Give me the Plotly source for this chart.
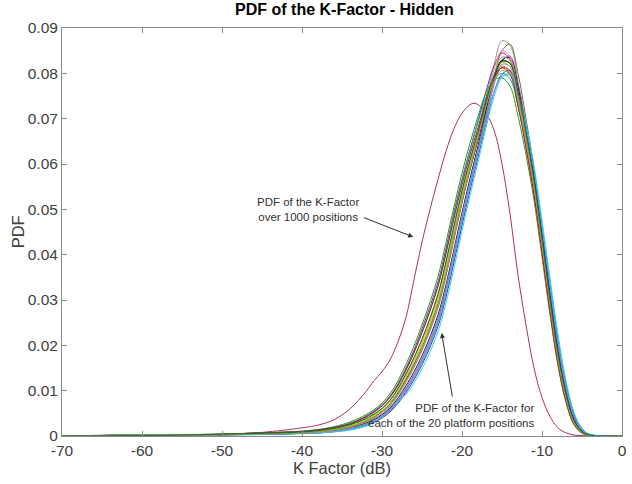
import plotly.graph_objects as go

# x grid (dB) on which the 20 platform-position PDFs were read
group_x = [-70, -60, -50, -45, -40, -37, -34, -31, -29, -27, -25, -23, -22, -21, -20, -19,
           -18, -17, -16, -15, -14, -13, -12, -11, -10, -9, -8, -7, -6, -5, -4, 0]

pos01 = [0, .0001, .0003, .0004, .0006, .0010, .0019, .0038, .0066, .0118, .0188, .0282, .0352, .0433, .0515, .0592, .0665, .0745, .0818, .0872, .0862, .0782, .0672, .0555, .0420, .0285, .0165, .0080, .0028, .0007, .0001, 0]
pos02 = [0, .0002, .0002, .0004, .0006, .0008, .0015, .0032, .0056, .0101, .0163, .0250, .0316, .0393, .0475, .0553, .0628, .0708, .0790, .0850, .0864, .0800, .0700, .0590, .0458, .0322, .0200, .0105, .0042, .0013, .0003, 0]
pos03 = [0, .0003, .0004, .0007, .0010, .0016, .0028, .0055, .0088, .0150, .0236, .0340, .0414, .0494, .0566, .0632, .0695, .0760, .0816, .0845, .0830, .0758, .0660, .0552, .0422, .0290, .0170, .0084, .0030, .0008, .0001, 0]
pos04 = [0, .0002, .0003, .0004, .0006, .0009, .0017, .0033, .0058, .0104, .0168, .0257, .0323, .0400, .0480, .0555, .0626, .0700, .0775, .0828, .0838, .0778, .0685, .0580, .0450, .0316, .0192, .0099, .0038, .0011, .0002, 0]
pos05 = [0, .0001, .0003, .0005, .0007, .0011, .0021, .0042, .0071, .0125, .0196, .0292, .0362, .0442, .0521, .0590, .0654, .0722, .0782, .0813, .0806, .0742, .0652, .0549, .0421, .0291, .0171, .0085, .0030, .0008, .0001, 0]
pos06 = [0, .0002, .0003, .0005, .0006, .0008, .0015, .0030, .0053, .0096, .0157, .0242, .0307, .0384, .0465, .0542, .0615, .0690, .0758, .0798, .0806, .0762, .0682, .0585, .0462, .0335, .0212, .0115, .0048, .0015, .0003, 0]
pos07 = [0, .0002, .0004, .0007, .0011, .0017, .0031, .0058, .0093, .0158, .0245, .0352, .0427, .0506, .0580, .0646, .0705, .0757, .0785, .0790, .0772, .0706, .0620, .0520, .0395, .0268, .0155, .0074, .0025, .0006, .0001, 0]
pos08 = [0, .0001, .0002, .0003, .0005, .0008, .0013, .0029, .0062, .0092, .0148, .0230, .0294, .0370, .0452, .0530, .0604, .0680, .0748, .0790, .0796, .0760, .0688, .0596, .0475, .0348, .0224, .0122, .0052, .0017, .0004, 0]
pos09 = [0, .0002, .0004, .0006, .0010, .0015, .0027, .0052, .0085, .0145, .0228, .0332, .0406, .0487, .0562, .0630, .0692, .0748, .0786, .0800, .0788, .0728, .0644, .0546, .0420, .0291, .0172, .0086, .0031, .0009, .0001, 0]
pos10 = [0, .0001, .0003, .0005, .0008, .0013, .0024, .0046, .0077, .0133, .0207, .0305, .0376, .0455, .0532, .0600, .0663, .0730, .0790, .0824, .0814, .0746, .0653, .0551, .0422, .0293, .0174, .0088, .0032, .0009, .0001, 0]
pos11 = [0, .0002, .0003, .0005, .0007, .0011, .0021, .0041, .0070, .0123, .0193, .0287, .0357, .0437, .0516, .0587, .0653, .0723, .0790, .0828, .0822, .0753, .0658, .0553, .0424, .0292, .0171, .0085, .0030, .0008, .0001, 0]
pos12 = [0, .0002, .0004, .0006, .0009, .0014, .0025, .0048, .0079, .0137, .0214, .0314, .0386, .0465, .0542, .0610, .0672, .0736, .0790, .0816, .0802, .0730, .0636, .0532, .0404, .0276, .0160, .0078, .0027, .0007, .0001, 0]
pos13 = [0, .0001, .0003, .0004, .0006, .0010, .0018, .0036, .0062, .0111, .0177, .0267, .0334, .0412, .0493, .0568, .0640, .0716, .0788, .0830, .0834, .0770, .0677, .0572, .0444, .0310, .0186, .0095, .0036, .0010, .0002, 0]
pos14 = [0, .0002, .0003, .0005, .0008, .0012, .0022, .0044, .0074, .0129, .0201, .0298, .0369, .0449, .0528, .0598, .0662, .0728, .0783, .0806, .0797, .0735, .0648, .0548, .0421, .0292, .0172, .0086, .0031, .0009, .0001, 0]
pos15 = [0, .0001, .0003, .0005, .0007, .0011, .0020, .0040, .0069, .0121, .0192, .0287, .0357, .0438, .0519, .0591, .0660, .0735, .0808, .0850, .0836, .0756, .0650, .0538, .0406, .0276, .0160, .0077, .0026, .0007, .0001, 0]
pos16 = [0, .0002, .0003, .0004, .0006, .0009, .0017, .0034, .0059, .0107, .0171, .0260, .0327, .0405, .0486, .0560, .0632, .0708, .0780, .0820, .0815, .0750, .0658, .0554, .0425, .0294, .0173, .0087, .0031, .0008, .0001, 0]
pos17 = [0, .0001, .0004, .0007, .0010, .0016, .0027, .0053, .0086, .0146, .0228, .0330, .0402, .0480, .0554, .0620, .0680, .0740, .0790, .0812, .0798, .0728, .0636, .0532, .0404, .0274, .0158, .0076, .0026, .0007, .0001, 0]
pos18 = [0, .0002, .0003, .0004, .0006, .0008, .0015, .0032, .0055, .0100, .0163, .0250, .0316, .0394, .0475, .0550, .0621, .0694, .0758, .0794, .0798, .0756, .0680, .0585, .0460, .0331, .0207, .0110, .0045, .0014, .0003, 0]
pos19 = [0, .0002, .0003, .0005, .0007, .0011, .0020, .0041, .0070, .0122, .0193, .0288, .0358, .0439, .0519, .0590, .0657, .0728, .0795, .0836, .0828, .0757, .0661, .0554, .0424, .0291, .0170, .0084, .0029, .0008, .0001, 0]
pos20 = [0, .0001, .0004, .0006, .0009, .0014, .0025, .0048, .0079, .0137, .0213, .0312, .0384, .0463, .0540, .0608, .0670, .0736, .0796, .0826, .0822, .0760, .0670, .0566, .0438, .0304, .0182, .0093, .0035, .0010, .0002, 0]

positions = [pos01, pos02, pos03, pos04, pos05, pos06, pos07, pos08, pos09, pos10,
             pos11, pos12, pos13, pos14, pos15, pos16, pos17, pos18, pos19, pos20]

pos_colors = ["#9a9a80", "#7a6a40", "#7E2F8E", "#d040c0", "#e02020", "#2040d0", "#20a020", "#30d0e0",
              "#20a0a0", "#e0d020", "#202020", "#e08020", "#101080", "#80d040", "#f080b0", "#909090",
              "#a02030", "#50b0f0", "#a0a030", "#107030"]

# PDF over 1000 positions
all_x = [-70, -65, -60, -55, -50, -45, -40, -38, -36, -34, -32, -31, -30, -29, -28, -27, -26, -25, -24, -23,
         -22, -21, -20, -19, -18.5, -18, -17, -16, -15, -14, -13, -12, -11, -10, -9, -8, -7, -6, -5, -4, 0]
all_y = [0, .0001, .0002, .0001, .0004, .0008, .0018, .0024, .0036, .0060, .0098, .0122, .0142, .0168, .0208,
         .0262, .0345, .0428, .0500, .0566, .0628, .0678, .0712, .0731, .0734, .0731, .0712, .0675, .0600, .0490,
         .0355, .0245, .0150, .0085, .0043, .0018, .0007, .0002, .0001, 0, 0]

x_ticks = [-70, -60, -50, -40, -30, -20, -10, 0]
x_tick_labels = ["-70", "-60", "-50", "-40", "-30", "-20", "-10", "0"]
y_ticks = [0, 0.01, 0.02, 0.03, 0.04, 0.05, 0.06, 0.07, 0.08, 0.09]
y_tick_labels = ["0", "0.01", "0.02", "0.03", "0.04", "0.05", "0.06", "0.07", "0.08", "0.09"]

fig = go.Figure()
fig.add_trace(go.Scatter(x=all_x, y=all_y, mode="lines", line=dict(color="#b03060", width=1, shape="spline"),
                         showlegend=False, hoverinfo="skip"))
for ys, c in zip(positions, pos_colors):
    fig.add_trace(go.Scatter(x=group_x, y=ys, mode="lines", line=dict(color=c, width=1, shape="spline"),
                             showlegend=False, hoverinfo="skip"))

font_family = "Liberation Sans, Arial, Helvetica, sans-serif"
axis_common = dict(showline=True, linecolor="#8a8a8a", linewidth=1, mirror="ticks", ticks="inside",
                   ticklen=5, tickcolor="#8a8a8a", showgrid=False, zeroline=False,
                   tickfont=dict(family=font_family, size=15.5, color="#404040"))

fig.update_layout(
    width=632, height=484,
    margin=dict(l=62, r=5, t=28, b=48),
    paper_bgcolor="white", plot_bgcolor="white",
    title=dict(text="<b>PDF of the K-Factor - Hidden</b>", x=0.545, xanchor="center", y=0.98, yanchor="middle",
               font=dict(family=font_family, size=16, color="#000000")),
    xaxis=dict(range=[-70, 0], tickvals=x_ticks, ticktext=x_tick_labels,
               title=dict(text="K Factor (dB)", standoff=4,
                          font=dict(family=font_family, size=16.5, color="#404040")), **axis_common),
    yaxis=dict(range=[0, 0.09], tickvals=y_ticks, ticktext=y_tick_labels, **axis_common),
    annotations=[
        dict(x=-0.078, y=0.5, xref="paper", yref="paper", text="PDF", textangle=-90, showarrow=False,
             xanchor="center", yanchor="middle", font=dict(family=font_family, size=16.5, color="#404040")),
        dict(x=-39.3, y=0.0499, xref="x", yref="y", text="PDF of the K-Factor<br>over 1000 positions",
             showarrow=False, align="center", font=dict(family=font_family, size=11.5, color="#303030")),
        dict(x=-26.1, y=0.0439, xref="x", yref="y", ax=-32.45, ay=0.0483, axref="x", ayref="y", text="",
             showarrow=True, arrowhead=2, arrowsize=1, arrowwidth=1, arrowcolor="#303030"),
        dict(x=-10.77, y=0.0046, xref="x", yref="y", xanchor="right",
             text="PDF of the K-Factor for<br>each of the 20 platform positions",
             showarrow=False, align="right", font=dict(family=font_family, size=11.5, color="#303030")),
        dict(x=-22.54, y=0.0227, xref="x", yref="y", ax=-21.18, ay=0.0084, axref="x", ayref="y", text="",
             showarrow=True, arrowhead=2, arrowsize=1, arrowwidth=1, arrowcolor="#303030"),
    ],
)

fig.write_html("out.html")
